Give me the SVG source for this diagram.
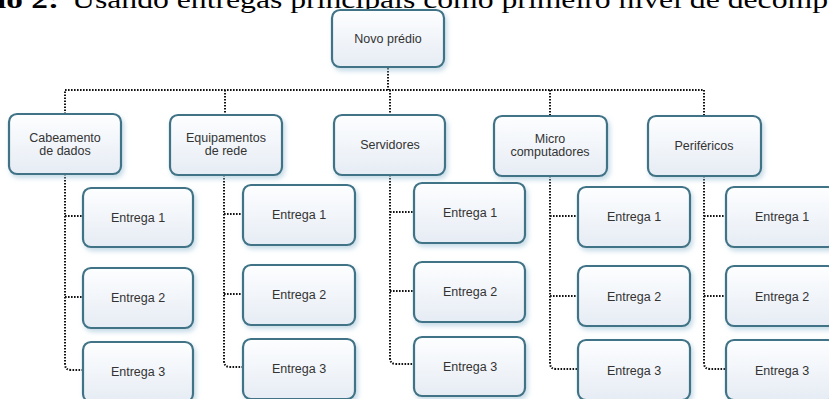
<svg xmlns="http://www.w3.org/2000/svg" width="829" height="399" viewBox="0 0 829 399">
<defs>
<linearGradient id="g" x1="0" y1="0" x2="0" y2="1">
<stop offset="0" stop-color="#fdfeff"/>
<stop offset="1" stop-color="#e6ecf4"/>
</linearGradient>
<filter id="sh" x="-20%" y="-20%" width="150%" height="160%">
<feDropShadow dx="2" dy="3" stdDeviation="2.5" flood-color="#9fc3d6" flood-opacity="0.6"/>
</filter>
</defs>
<style>
.box{fill:url(#g);stroke:#3f7386;stroke-width:2.2;filter:url(#sh)}
.t{font-family:"Liberation Sans",Arial,sans-serif;font-size:12.5px;fill:#333;text-anchor:middle}
.c{fill:none;stroke:#111;stroke-width:2;stroke-dasharray:1.6 1.4}
.title{font-family:"Liberation Serif","Times New Roman",serif;font-size:25px;fill:#000}
</style>
<rect width="829" height="399" fill="#fff"/>
<text class="title" y="7.5"><tspan x="-3" font-weight="bold" textLength="62" lengthAdjust="spacingAndGlyphs">lo 2:</tspan><tspan x="72" textLength="756" lengthAdjust="spacingAndGlyphs">Usando entregas principais como primeiro nível de decomp</tspan></text>

<g id="connectors">
<path class="c" d="M388 68 V90"/>
<path class="c" d="M65 114 V90 H704 V116"/>
<path class="c" d="M225 90 V115"/>
<path class="c" d="M390 90 V115"/>
<path class="c" d="M550 90 V116"/>
<path class="c" d="M65 174 V364 Q65 370 71 370 H83"/>
<path class="c" d="M65 216 H83 M65 297 H83"/>
<path class="c" d="M224 175 V361 Q224 367 230 367 H243"/>
<path class="c" d="M224 214 H243 M224 294 H243"/>
<path class="c" d="M390 175 V358 Q390 364 396 364 H414"/>
<path class="c" d="M390 212 H414 M390 291 H414"/>
<path class="c" d="M550 176 V363 Q550 369 556 369 H578"/>
<path class="c" d="M550 216 H578 M550 296 H578"/>
<path class="c" d="M704 176 V363 Q704 369 710 369 H726"/>
<path class="c" d="M704 216 H726 M704 296 H726"/>
</g>

<g id="root"><rect class="box" x="332" y="10" width="112" height="57" rx="8"/><text class="t" x="388" y="43">Novo prédio</text></g>

<g id="cabeamento"><rect class="box" x="9" y="114" width="112" height="60" rx="8"/><text class="t" x="65" y="142">Cabeamento</text><text class="t" x="65" y="155">de dados</text></g>
<g id="equipamentos"><rect class="box" x="170" y="115" width="112" height="60" rx="8"/><text class="t" x="226" y="142">Equipamentos</text><text class="t" x="226" y="155">de rede</text></g>
<g id="servidores"><rect class="box" x="334" y="115" width="111" height="60" rx="8"/><text class="t" x="390" y="149">Servidores</text></g>
<g id="micro"><rect class="box" x="494" y="116" width="113" height="60" rx="8"/><text class="t" x="550" y="143">Micro</text><text class="t" x="550" y="156">computadores</text></g>
<g id="perifericos"><rect class="box" x="648" y="116" width="113" height="60" rx="8"/><text class="t" x="704" y="150">Periféricos</text></g>

<g id="c1e1"><rect class="box" x="83" y="188" width="110" height="59" rx="8"/><text class="t" x="138" y="222">Entrega 1</text></g>
<g id="c1e2"><rect class="box" x="83" y="268" width="110" height="60" rx="8"/><text class="t" x="138" y="302">Entrega 2</text></g>
<g id="c1e3"><rect class="box" x="83" y="342" width="110" height="60" rx="8"/><text class="t" x="138" y="376">Entrega 3</text></g>

<g id="c2e1"><rect class="box" x="243" y="185" width="112" height="60" rx="8"/><text class="t" x="299" y="219">Entrega 1</text></g>
<g id="c2e2"><rect class="box" x="243" y="265" width="112" height="60" rx="8"/><text class="t" x="299" y="299">Entrega 2</text></g>
<g id="c2e3"><rect class="box" x="243" y="339" width="112" height="60" rx="8"/><text class="t" x="299" y="373">Entrega 3</text></g>

<g id="c3e1"><rect class="box" x="414" y="183" width="111" height="60" rx="8"/><text class="t" x="470" y="217">Entrega 1</text></g>
<g id="c3e2"><rect class="box" x="414" y="262" width="111" height="60" rx="8"/><text class="t" x="470" y="296">Entrega 2</text></g>
<g id="c3e3"><rect class="box" x="414" y="337" width="111" height="59" rx="8"/><text class="t" x="470" y="371">Entrega 3</text></g>

<g id="c4e1"><rect class="box" x="578" y="187" width="112" height="60" rx="8"/><text class="t" x="634" y="221">Entrega 1</text></g>
<g id="c4e2"><rect class="box" x="578" y="266" width="112" height="60" rx="8"/><text class="t" x="634" y="301">Entrega 2</text></g>
<g id="c4e3"><rect class="box" x="578" y="340" width="112" height="60" rx="8"/><text class="t" x="634" y="375">Entrega 3</text></g>

<g id="c5e1"><rect class="box" x="726" y="187" width="110" height="60" rx="8"/><text class="t" x="782" y="221">Entrega 1</text></g>
<g id="c5e2"><rect class="box" x="726" y="266" width="110" height="60" rx="8"/><text class="t" x="782" y="301">Entrega 2</text></g>
<g id="c5e3"><rect class="box" x="726" y="340" width="110" height="60" rx="8"/><text class="t" x="782" y="375">Entrega 3</text></g>
</svg>
